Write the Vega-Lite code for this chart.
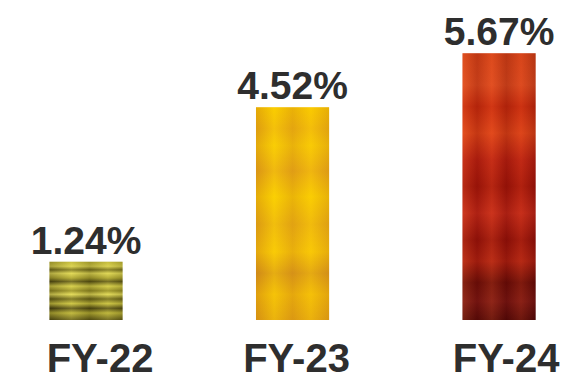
{
  "$schema": "https://vega.github.io/schema/vega-lite/v6.json",
  "width": 570,
  "height": 320,
  "padding": {"left": 0, "top": 0, "right": 0, "bottom": 56},
  "autosize": {"type": "none"},
  "background": "#ffffff",
  "config": {"view": {"stroke": null}},
  "data": {
    "values": [
      {"year": "FY-22", "rate": 1.24, "label": "1.24%"},
      {"year": "FY-23", "rate": 4.52, "label": "4.52%"},
      {"year": "FY-24", "rate": 5.67, "label": "5.67%"}
    ]
  },
  "encoding": {
    "x": {
      "field": "year",
      "type": "nominal",
      "sort": null,
      "scale": {"paddingInner": 0.646, "paddingOuter": 0.203, "align": 0.59},
      "axis": {
        "title": null,
        "domain": false,
        "ticks": false,
        "grid": false,
        "labelAngle": 0,
        "labelFont": "Liberation Sans",
        "labelFontWeight": "bold",
        "labelFontSize": 40,
        "labelColor": "#2e2e2e",
        "labelPadding": 19,
        "labelBaseline": "top",
        "labelOffset": {
          "condition": [
            {"test": "datum.value == 'FY-22'", "value": 14},
            {"test": "datum.value == 'FY-24'", "value": 7}
          ],
          "value": 4
        }
      }
    },
    "y": {
      "field": "rate",
      "type": "quantitative",
      "scale": {"domain": [0, 6.8], "nice": false},
      "axis": null
    }
  },
  "layer": [
    {
      "transform": [{"filter": "datum.year == 'FY-22'"}],
      "mark": {
        "type": "bar",
        "fill": {
          "gradient": "linear", "x1": 0, "y1": 0, "x2": 0, "y2": 1,
          "stops": [
            {"offset": 0.0, "color": "#b8b030"},
            {"offset": 0.08, "color": "#d8d050"},
            {"offset": 0.14, "color": "#6a6418"},
            {"offset": 0.2, "color": "#e0d858"},
            {"offset": 0.28, "color": "#a49c2c"},
            {"offset": 0.34, "color": "#4a4410"},
            {"offset": 0.42, "color": "#d4cc48"},
            {"offset": 0.5, "color": "#8c8420"},
            {"offset": 0.56, "color": "#e4dc5c"},
            {"offset": 0.64, "color": "#5a5412"},
            {"offset": 0.72, "color": "#c8c040"},
            {"offset": 0.8, "color": "#3c360c"},
            {"offset": 0.88, "color": "#b4ac34"},
            {"offset": 1.0, "color": "#4a4410"}
          ]
        }
      }
    },
    {
      "transform": [{"filter": "datum.year == 'FY-22'"}],
      "mark": {
        "type": "bar",
        "opacity": 0.3,
        "fill": {
          "gradient": "linear", "x1": 0, "y1": 0, "x2": 1, "y2": 0,
          "stops": [
            {"offset": 0.0, "color": "#3a340c"},
            {"offset": 0.3, "color": "#e8e060"},
            {"offset": 0.55, "color": "#5a5412"},
            {"offset": 0.8, "color": "#e0d858"},
            {"offset": 1.0, "color": "#6a6418"}
          ]
        }
      }
    },
    {
      "transform": [{"filter": "datum.year == 'FY-23'"}],
      "mark": {
        "type": "bar",
        "fill": {
          "gradient": "linear", "x1": 0, "y1": 0, "x2": 0, "y2": 1,
          "stops": [
            {"offset": 0.0, "color": "#f8c800"},
            {"offset": 0.1, "color": "#eeb410"},
            {"offset": 0.18, "color": "#f6c808"},
            {"offset": 0.3, "color": "#e8a818"},
            {"offset": 0.42, "color": "#f8cc04"},
            {"offset": 0.55, "color": "#eab014"},
            {"offset": 0.68, "color": "#f6c40a"},
            {"offset": 0.78, "color": "#d8961c"},
            {"offset": 0.88, "color": "#f0b80c"},
            {"offset": 1.0, "color": "#e0a014"}
          ]
        }
      }
    },
    {
      "transform": [{"filter": "datum.year == 'FY-23'"}],
      "mark": {
        "type": "bar",
        "opacity": 0.35,
        "fill": {
          "gradient": "linear", "x1": 0, "y1": 0, "x2": 1, "y2": 0,
          "stops": [
            {"offset": 0.0, "color": "#c07010"},
            {"offset": 0.25, "color": "#ffd800"},
            {"offset": 0.5, "color": "#d08810"},
            {"offset": 0.75, "color": "#ffd000"},
            {"offset": 1.0, "color": "#c88010"}
          ]
        }
      }
    },
    {
      "transform": [{"filter": "datum.year == 'FY-24'"}],
      "mark": {
        "type": "bar",
        "fill": {
          "gradient": "linear", "x1": 0, "y1": 0, "x2": 0, "y2": 1,
          "stops": [
            {"offset": 0.0, "color": "#d84818"},
            {"offset": 0.12, "color": "#e05020"},
            {"offset": 0.2, "color": "#c82c0c"},
            {"offset": 0.3, "color": "#e04818"},
            {"offset": 0.4, "color": "#b82010"},
            {"offset": 0.5, "color": "#a01408"},
            {"offset": 0.6, "color": "#c02818"},
            {"offset": 0.7, "color": "#901008"},
            {"offset": 0.78, "color": "#a82010"},
            {"offset": 0.86, "color": "#5a0a06"},
            {"offset": 0.93, "color": "#6a1412"},
            {"offset": 1.0, "color": "#400606"}
          ]
        }
      }
    },
    {
      "transform": [{"filter": "datum.year == 'FY-24'"}],
      "mark": {
        "type": "bar",
        "opacity": 0.3,
        "fill": {
          "gradient": "linear", "x1": 0, "y1": 0, "x2": 1, "y2": 0,
          "stops": [
            {"offset": 0.0, "color": "#f06030"},
            {"offset": 0.2, "color": "#801008"},
            {"offset": 0.4, "color": "#e85028"},
            {"offset": 0.6, "color": "#700a06"},
            {"offset": 0.8, "color": "#d84020"},
            {"offset": 1.0, "color": "#600806"}
          ]
        }
      }
    },
    {
      "mark": {
        "type": "text",
        "baseline": "alphabetic",
        "dy": -8,
        "font": "Liberation Sans",
        "fontWeight": "bold",
        "fontSize": 39,
        "fill": "#2e2e2e"
      },
      "encoding": {"text": {"field": "label"}}
    }
  ]
}
